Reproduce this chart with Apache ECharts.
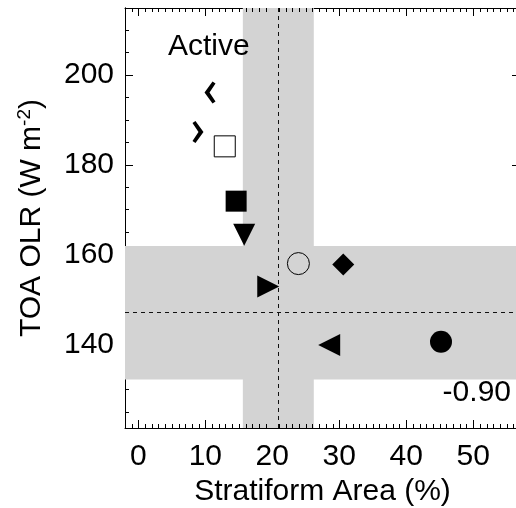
<!DOCTYPE html>
<html>
<head>
<meta charset="utf-8">
<script src="https://cdn.jsdelivr.net/npm/echarts@6/dist/echarts.min.js"></script>
<style>
  html, body, #main {
    width: 516px;
    height: 508px;
    margin: 0;
    background: #fff;
  }
</style>
</head>
<body>
<div id="main"></div>
<script>
// values
var stratiform = [10.7, 8.9, 12.9, 14.6, 15.8, 23.9, 19.4, 30.6, 28.5, 45.2]
var olr = [196.1, 187.3, 184.1, 171.9, 164.4, 158.0, 152.9, 157.8, 139.9, 140.6]
var markers = ['chevL', 'chevR', 'openSquare', 'square', 'triDown', 'openCircle', 'triRight', 'diamond', 'triLeft', 'circle']

var xTicks = [0, 10, 20, 30, 40, 50]
var yTicks = [140, 160, 180, 200]
var xMinor = [-2, -1, 1, 2, 3, 4, 5, 6, 7, 8, 9, 11, 12, 13, 14, 15, 16, 17, 18, 19,
  21, 22, 23, 24, 25, 26, 27, 28, 29, 31, 32, 33, 34, 35, 36, 37, 38, 39,
  41, 42, 43, 44, 45, 46, 47, 48, 49, 51, 52, 53, 54, 55, 56]
var yMinor = [125, 130, 135, 145, 150, 155, 165, 170, 175, 185, 190, 195, 205, 210]

var xBand = [15.6, 26.2]
var yBand = [132.2, 161.9]
var xMean = 20.9
var yMean = 147.1

var xRange = [-2, 57]
var yRange = [121.4, 214.9]

var FONT = '"Liberation Sans", Arial, Helvetica, sans-serif'

var symbolStyles = {
  chevL: { symbol: 'path://M8,0 L11,2 L5,11 L11,20 L8,22 L0,11 Z', size: [11, 22], rotate: 0, fill: '#000' },
  chevR: { symbol: 'path://M3,0 L0,2 L6,11 L0,20 L3,22 L11,11 Z', size: [11, 22], rotate: 0, fill: '#000' },
  openSquare: { symbol: 'rect', size: 21, rotate: 0, fill: 'rgba(0,0,0,0)', border: 1 },
  square: { symbol: 'rect', size: 21, rotate: 0, fill: '#000' },
  triDown: { symbol: 'triangle', size: 22, rotate: 180, fill: '#000' },
  openCircle: { symbol: 'circle', size: 22, rotate: 0, fill: 'rgba(0,0,0,0)', border: 1 },
  triRight: { symbol: 'triangle', size: 22, rotate: -90, fill: '#000' },
  diamond: { symbol: 'diamond', size: 22, rotate: 0, fill: '#000' },
  triLeft: { symbol: 'triangle', size: 22, rotate: 90, fill: '#000' },
  circle: { symbol: 'circle', size: 22, rotate: 0, fill: '#000' }
}

var points = stratiform.map(function (x, i) {
  var s = symbolStyles[markers[i]]
  return {
    value: [x, olr[i]],
    symbol: s.symbol,
    symbolSize: s.size,
    symbolRotate: s.rotate,
    itemStyle: {
      color: s.fill,
      opacity: 1,
      borderColor: '#000',
      borderWidth: s.border || 0
    }
  }
})

function ax(pos, range, len, extra) {
  return Object.assign({
    type: 'value', position: pos, min: range[0], max: range[1],
    axisLine: { show: true, onZero: false, lineStyle: { color: '#000', width: 1 } },
    axisTick: { show: true, inside: true, length: len, lineStyle: { color: '#000', width: 1 } },
    axisLabel: { show: false },
    splitLine: { show: false }
  }, extra || {})
}
function majorTick(len, values) {
  return { show: true, inside: true, length: len, customValues: values, lineStyle: { color: '#000', width: 1 } }
}

// short minor ticks on the top and bottom frame, placed through the x scale
function minorTicks(params, api) {
  var bottom = api.coord([api.value(0), yRange[0]])
  var top = api.coord([api.value(0), yRange[1]])
  var x = Math.round(bottom[0]) + 0.5
  var style = { stroke: '#000', lineWidth: 1 }
  return {
    type: 'group',
    children: [
      { type: 'line', shape: { x1: x, y1: bottom[1], x2: x, y2: bottom[1] - 4 }, style: style },
      { type: 'line', shape: { x1: x, y1: top[1], x2: x, y2: top[1] + 4 }, style: style }
    ]
  }
}

var chart = echarts.init(document.getElementById('main'))

var option = {
  animation: false,
  backgroundColor: '#fff',
  grid: { left: 125, top: 8, right: -4, bottom: 80, outerBoundsMode: 'none' },
  xAxis: [
    ax('bottom', xRange, 8, {
      axisTick: majorTick(8, xTicks),
      axisLabel: { show: true, customValues: xTicks, margin: 14, fontSize: 30, color: '#000', fontFamily: FONT },
      name: 'Stratiform Area (%)',
      nameLocation: 'middle',
      nameGap: 46,
      nameTextStyle: { fontSize: 30, color: '#000', fontFamily: FONT }
    }),
    ax('top', xRange, 8, { axisTick: majorTick(8, xTicks) })
  ],
  yAxis: [
    ax('left', yRange, 8, {
      axisTick: majorTick(8, yTicks),
      axisLabel: { show: true, customValues: yTicks, margin: 11, fontSize: 30, color: '#000', fontFamily: FONT },
      name: 'TOA OLR (W m{sup|-2})',
      nameLocation: 'middle',
      nameRotate: 90,
      nameGap: 76,
      nameTextStyle: {
        fontSize: 30, color: '#000', fontFamily: FONT,
        rich: { sup: { fontSize: 19, color: '#000', fontFamily: FONT, verticalAlign: 'top', lineHeight: 34 } }
      }
    }),
    ax('left', yRange, 4, { axisTick: majorTick(4, yMinor) }),
    ax('right', yRange, 8, { axisTick: majorTick(8, yTicks) })
  ],
  graphic: [
    { type: 'text', left: 168, top: 32, z: 10,
      style: { text: 'Active', font: '30px ' + FONT, fill: '#000' } },
    { type: 'text', right: 5, top: 378, z: 10,
      style: { text: '-0.90', font: '30px ' + FONT, fill: '#000' } }
  ],
  series: [{
    type: 'scatter',
    xAxisIndex: 0,
    yAxisIndex: 0,
    z: 5,
    data: points,
    markArea: {
      silent: true,
      itemStyle: { color: '#d3d3d3', opacity: 1 },
      data: [
        [{ xAxis: xBand[0], yAxis: yRange[0] }, { xAxis: xBand[1], yAxis: yRange[1] }],
        [{ xAxis: xRange[0], yAxis: yBand[0] }, { xAxis: xRange[1], yAxis: yBand[1] }]
      ]
    },
    markLine: {
      silent: true,
      symbol: 'none',
      label: { show: false },
      lineStyle: { color: '#111', width: 1, type: [4, 4] },
      data: [{ xAxis: xMean }, { yAxis: yMean }]
    }
  }, {
    type: 'custom',
    xAxisIndex: 0,
    yAxisIndex: 0,
    silent: true,
    z: 6,
    clip: false,
    renderItem: minorTicks,
    data: xMinor.map(function (v) { return [v, yRange[0]] })
  }]
}
chart.setOption(option)
</script>
</body>
</html>
